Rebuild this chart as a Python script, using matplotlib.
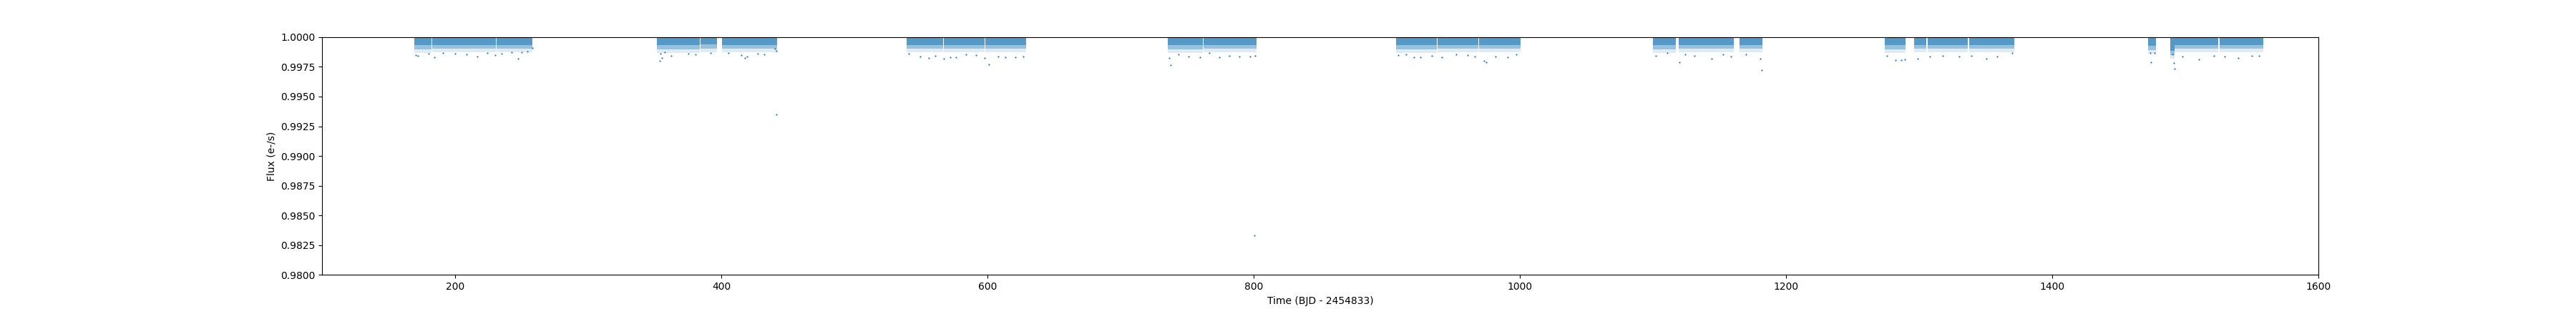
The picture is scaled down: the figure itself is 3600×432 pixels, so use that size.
"""Kepler long-cadence light curve, normalised flux vs time (out.png)."""

import matplotlib

matplotlib.use("Agg")
import matplotlib.pyplot as plt  # noqa: E402

POINT = "#1f77b4"

# observing pieces (days, BJD - 2454833), split at the data gaps
piece_start = [169.4, 183.0, 231.2,
               351.7, 384.4, 400.6,
               539.4, 567.2, 598.6,
               735.7, 762.6,
               906.8, 938.3, 969.3,
               1099.8, 1119.2, 1165.0,
               1274.3, 1296.3, 1306.2, 1337.4,
               1472.0, 1488.7, 1491.8, 1525.6]
piece_end = [182.0, 230.4, 258.1,
             383.8, 397.0, 442.0,
             566.5, 598.0, 629.3,
             761.6, 802.4,
             937.8, 968.8, 1000.3,
             1117.3, 1161.0, 1182.0,
             1289.9, 1305.6, 1336.8, 1371.4,
             1478.0, 1491.8, 1524.8, 1558.4]
# lower edge of the dense band of points in each piece
core_low = [0.99918, 0.99920, 0.99920,
            0.99918, 0.99922, 0.99920,
            0.99920, 0.99920, 0.99920,
            0.99918, 0.99920,
            0.99918, 0.99920, 0.99920,
            0.99918, 0.99920, 0.99920,
            0.99915, 0.99920, 0.99920, 0.99920,
            0.99912, 0.99870, 0.99920, 0.99920]

# sparse points below the dense band
fringe_t = [170.6, 172.1, 184.6, 180.1, 190.9, 199.9, 208.5, 216.9, 224.1,
            230.0, 234.8, 242.5, 247.4, 250.0, 254.5, 257.8,
            353.5, 355.5, 354.4, 362.6, 357.6, 375.5, 380.4, 391.7, 405.5,
            415.0, 418.0, 419.1, 427.5, 432.0, 441.4, 440.1, 441.5,
            540.7, 549.3, 556.0, 567.0, 572.0, 576.2, 560.9, 591.6, 597.7,
            601.3, 607.9, 613.6, 620.9, 626.8, 583.9,
            736.6, 737.5, 743.3, 751.0, 759.6, 766.4, 774.1, 781.8, 789.5,
            797.1, 801.3, 800.8,
            908.5, 914.6, 920.4, 925.3, 933.9, 941.2, 952.2, 960.8, 966.2,
            973.2, 974.6, 981.9, 990.6, 997.3,
            1101.9, 1110.6, 1119.8, 1124.0, 1131.3, 1144.2, 1152.8, 1158.6,
            1170.1, 1180.7, 1181.5,
            1276.0, 1282.2, 1286.7, 1289.4, 1299.1, 1308.3, 1317.6, 1329.9,
            1339.2, 1350.5, 1358.8, 1370.0,
            1474.4, 1473.6, 1477.1, 1491.5, 1492.1, 1490.5, 1497.7, 1510.0,
            1521.4, 1529.6, 1539.9, 1550.2, 1555.3]
fringe_f = [0.99849, 0.99845, 0.99833, 0.99859, 0.99869, 0.99859, 0.99853,
            0.99839, 0.99869, 0.99849, 0.99863, 0.99873, 0.99818, 0.99873,
            0.99879, 0.99910,
            0.99798, 0.99822, 0.99859, 0.99845, 0.99875, 0.99863, 0.99853,
            0.99865, 0.99869, 0.99849, 0.99822, 0.99834, 0.99863, 0.99855,
            0.99884, 0.99900, 0.99348,
            0.99863, 0.99835, 0.99824, 0.99820, 0.99831, 0.99831, 0.99841,
            0.99846, 0.99824, 0.99770, 0.99835, 0.99831, 0.99831, 0.99835,
            0.99852,
            0.99824, 0.99765, 0.99857, 0.99839, 0.99831, 0.99867, 0.99831,
            0.99841, 0.99835, 0.99839, 0.99841, 0.98331,
            0.99846, 0.99857, 0.99831, 0.99831, 0.99841, 0.99831, 0.99857,
            0.99846, 0.99835, 0.99802, 0.99791, 0.99835, 0.99831, 0.99857,
            0.99841, 0.99867, 0.99791, 0.99857, 0.99841, 0.99817, 0.99857,
            0.99835, 0.99857, 0.99817, 0.99720,
            0.99844, 0.99808, 0.99808, 0.99815, 0.99820, 0.99836, 0.99844,
            0.99836, 0.99844, 0.99820, 0.99836, 0.99867,
            0.99790, 0.99867, 0.99867, 0.99785, 0.99733, 0.99855, 0.99836,
            0.99815, 0.99844, 0.99836, 0.99827, 0.99844, 0.99844]

# shading of the band, stacked from the faint fringe up to the dense core:
# (offset of the layer's bottom from the band's lower edge, alpha)
BAND_LAYERS = ((-0.0005, 0.14), (-0.0002, 0.36), (0.00015, 0.55))


def main():
    fig, ax = plt.subplots(figsize=(36, 4.32), dpi=100)
    for t0, t1, low in zip(piece_start, piece_end, core_low):
        for bot_off, alpha in BAND_LAYERS:
            ax.fill_between([t0, t1], low + bot_off, 1.01,
                            color=POINT, alpha=alpha, linewidth=0)
    ax.scatter(fringe_t, fringe_f, s=2.5, color=POINT, linewidths=0)
    ax.set_xlim(100, 1600)
    ax.set_ylim(0.98, 1.0)
    ax.set_xlabel("Time (BJD - 2454833)")
    ax.set_ylabel("Flux (e-/s)")
    fig.savefig("out.png")
    plt.close(fig)


if __name__ == "__main__":
    main()
